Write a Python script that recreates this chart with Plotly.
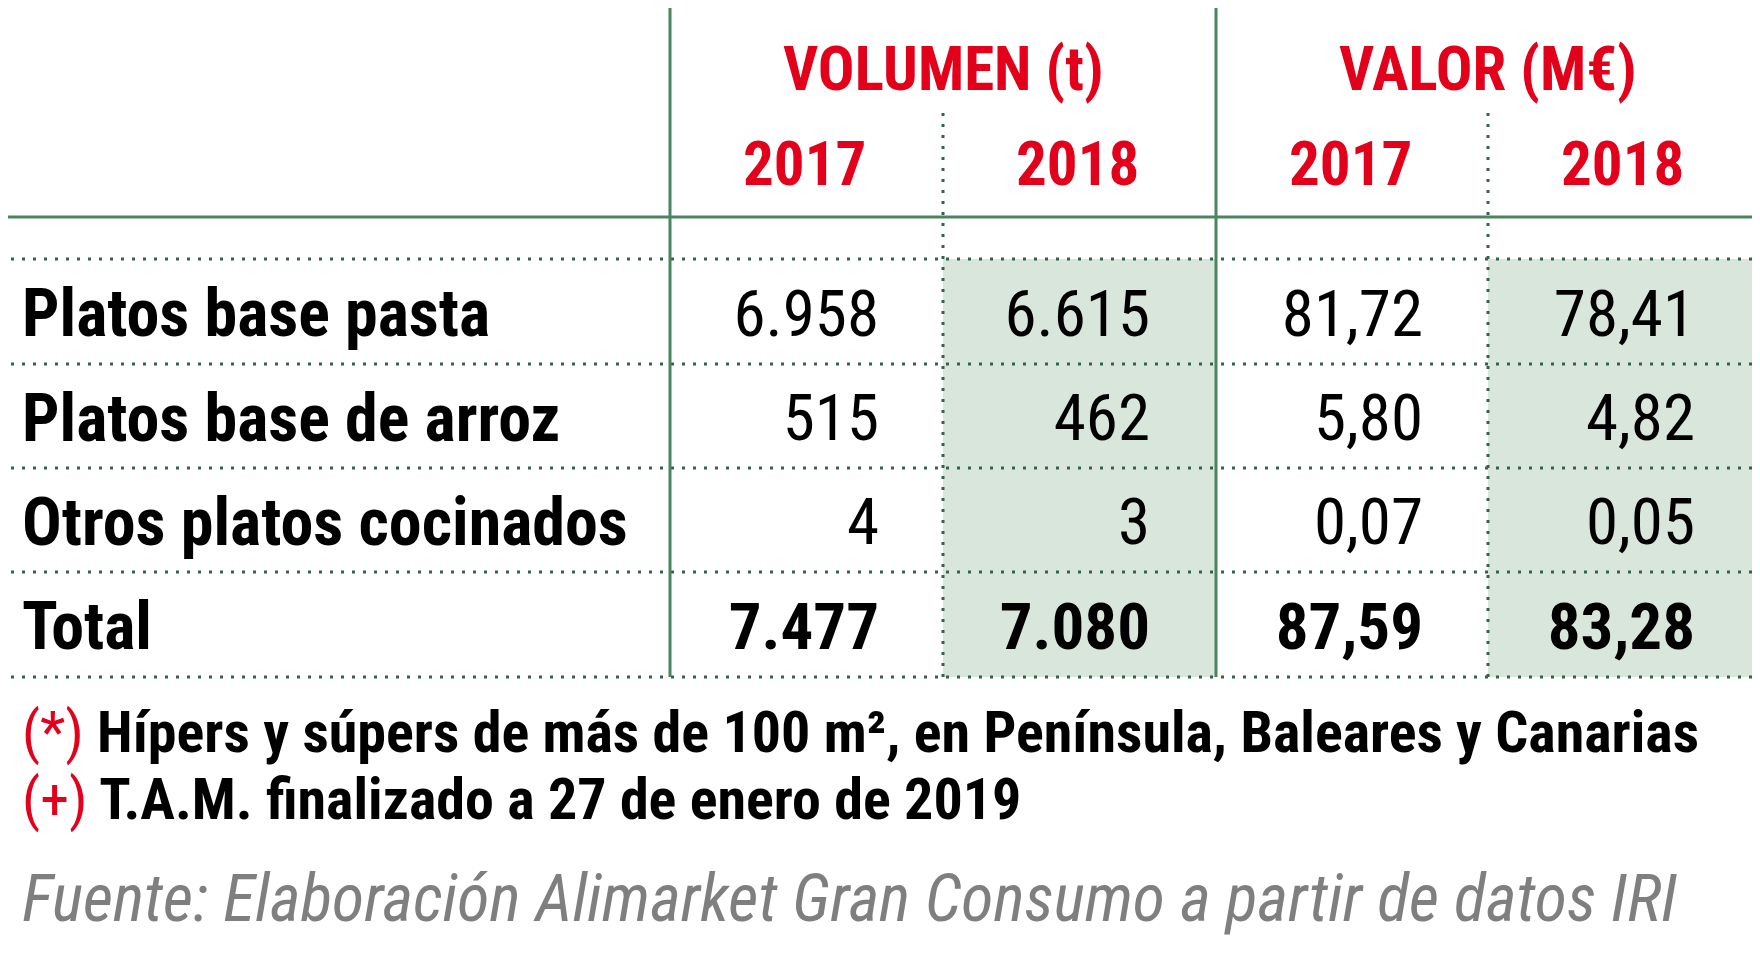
import plotly.graph_objects as go

# ---- data ----
categories = ["Platos base pasta", "Platos base de arroz", "Otros platos cocinados", "Total"]
vol_2017 = [6958, 515, 4, 7477]
vol_2018 = [6615, 462, 3, 7080]
val_2017 = [81.72, 5.80, 0.07, 87.59]
val_2018 = [78.41, 4.82, 0.05, 83.28]
groups = ["VOLUMEN (t)", "VALOR (M€)"]
years = ["2017", "2018"]
note_marks = ["(*)", "(+)"]
notes = ["Hípers y súpers de más de 100 m², en Península, Baleares y Canarias",
         "T.A.M. finalizado a 27 de enero de 2019"]
source = "Fuente: Elaboración Alimarket Gran Consumo a partir de datos IRI"

# ---- layout (page pixel space; body margin of the html page is 8px) ----
W, H = 1760, 970
OFF = 8
col_edges = [0, 670, 943, 1216, 1488, 1760]
row_edges = [259, 364, 468, 572, 677]
head_line = 217
RED = "#e2001a"
GREEN = "#4a8560"
DOTGREEN = "#35634a"
SHADE = "#d8e6dc"
FONT = "Roboto Condensed, Liberation Sans, sans-serif"


def fmt_int(v):
    return "{:,}".format(v).replace(",", ".")


def fmt_dec(v):
    return "{:.2f}".format(v).replace(".", ",")


fig = go.Figure()

# shaded 2018 columns
for c in (2, 4):
    fig.add_shape(type="rect", x0=col_edges[c], x1=col_edges[c + 1],
                  y0=row_edges[0], y1=row_edges[-1],
                  fillcolor=SHADE, line_width=0, layer="below")

# grid lines
dot = "3px,8px"
for y in row_edges:
    fig.add_shape(type="line", x0=0, x1=W, y0=y, y1=y,
                  line=dict(color=DOTGREEN, width=3, dash=dot))
fig.add_shape(type="line", x0=0, x1=W, y0=head_line, y1=head_line,
              line=dict(color=GREEN, width=3))
for x in (col_edges[1], col_edges[3]):
    fig.add_shape(type="line", x0=x, x1=x, y0=7, y1=row_edges[-1],
                  line=dict(color=GREEN, width=3))
for x in (col_edges[2], col_edges[4]):
    fig.add_shape(type="line", x0=x, x1=x, y0=113, y1=row_edges[-1],
                  line=dict(color=DOTGREEN, width=3, dash=dot))

row_mid = [(row_edges[i] + row_edges[i + 1]) / 2 + 8 for i in range(len(categories))]
n = len(categories)
bold = [False] * (n - 1) + [True]

# row labels
for i, cat in enumerate(categories):
    fig.add_trace(go.Scatter(
        x=[22], y=[row_mid[i]], mode="text", text=[cat], textposition="middle right",
        textfont=dict(family=FONT, size=66, color="black", weight="bold"),
        hoverinfo="skip", showlegend=False))

# numeric columns, right aligned
cols = [(vol_2017, fmt_int, 879), (vol_2018, fmt_int, 1150),
        (val_2017, fmt_dec, 1423), (val_2018, fmt_dec, 1695)]
for values, f, xr in cols:
    for i, v in enumerate(values):
        fig.add_trace(go.Scatter(
            x=[xr], y=[row_mid[i]], mode="text", text=[f(v)], textposition="middle left",
            textfont=dict(family=FONT, size=65, color="black",
                          weight="bold" if bold[i] else "normal"),
            hoverinfo="skip", showlegend=False))

# headers
for g, label in enumerate(groups):
    fig.add_annotation(x=col_edges[2 + 2 * g], y=69, text=label, showarrow=False,
                       font=dict(family=FONT, size=61, color=RED, weight="bold"))
    for k, yr in enumerate(years):
        c = 1 + 2 * g + k
        fig.add_annotation(x=(col_edges[c] + col_edges[c + 1]) / 2 - 2, y=164, text=yr,
                           showarrow=False,
                           font=dict(family=FONT, size=61, color=RED, weight="bold"))

# footnotes
for k, (m, t) in enumerate(zip(note_marks, notes)):
    fig.add_annotation(x=20, y=732 + 67 * k, xanchor="left", showarrow=False,
                       text="<span style='color:%s;font-weight:normal'>%s</span> %s" % (RED, m, t),
                       font=dict(family=FONT, size=58, color="black", weight="bold"))

fig.add_annotation(x=20, y=898, xanchor="left", showarrow=False, text="<i>%s</i>" % source,
                   font=dict(family=FONT, size=66, color="#7f7f7f"))

fig.update_layout(
    width=W, height=H, margin=dict(l=0, r=0, t=0, b=0),
    paper_bgcolor="white", plot_bgcolor="white",
    xaxis=dict(range=[OFF, W + OFF], visible=False, fixedrange=True),
    yaxis=dict(range=[H + OFF, OFF], visible=False, fixedrange=True),
)

fig.write_html("out.html")
